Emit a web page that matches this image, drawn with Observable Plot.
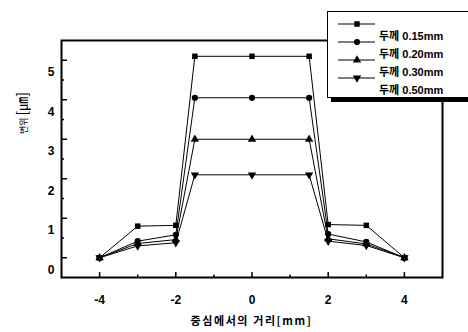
<!DOCTYPE html>
<html>
<head>
<meta charset="utf-8">
<script src="https://cdn.jsdelivr.net/npm/d3@7"></script>
<script src="https://cdn.jsdelivr.net/npm/@observablehq/plot@0.6"></script>
<style>
  html, body { margin: 0; padding: 0; background: #fff; overflow: hidden; }
  #wrap { position: relative; width: 468px; height: 332px; }
  #legend {
    position: absolute; left: 327px; top: 11px; width: 160px; height: 85px;
    border: 1px solid #000; background: #fff; overflow: hidden;
    box-shadow: 4px 4px 0 #000;
  }
</style>
</head>
<body>
<div id="wrap"><div id="legend"></div></div>
<script>
// ---- data ----
const distances = [-4, -3, -2, -1.5, 0, 1.5, 2, 3, 4];
const thickness015 = [0, 0.80, 0.82, 5.10, 5.10, 5.10, 0.84, 0.82, 0];
const thickness020 = [0, 0.42, 0.58, 4.05, 4.05, 4.05, 0.60, 0.40, 0];
const thickness030 = [0, 0.36, 0.46, 3.00, 3.00, 3.00, 0.48, 0.35, 0];
const thickness050 = [0, 0.30, 0.38, 2.10, 2.10, 2.10, 0.42, 0.31, 0];
const seriesLabels = ["두께 0.15mm", "두께 0.20mm", "두께 0.30mm", "두께 0.50mm"];
const xTicksMajor = [-4, -2, 0, 2, 4];
const xTicksMinor = [-3, -1, 1, 3];
const yTicksMajor = [0, 1, 2, 3, 4, 5];
const yTicksMinor = [0.5, 1.5, 2.5, 3.5, 4.5];
const xTitle = "중심에서의 거리[mm]";
const yTitleA = "변위";
const yTitleB = "[㎛]";

const seriesValues = [thickness015, thickness020, thickness030, thickness050];
const symbolNames = ["square", "circle", "triangle", "triangle"];
const symbolRotate = [0, 0, 0, 180];

const rows = seriesValues.flatMap((vals, s) =>
  vals.map((v, i) => ({x: distances[i], y: v, series: seriesLabels[s]})));

const FONT = "'Liberation Sans', Arial, 'Noto Sans CJK KR', sans-serif";
const R = 3.1;

const dotMarks = seriesLabels.map((lab, s) =>
  Plot.dot(rows.filter(d => d.series === lab), {
    x: "x", y: "y", r: R, symbol: symbolNames[s], rotate: symbolRotate[s],
    fill: "black", stroke: "none"
  }));

const svg = Plot.plot({
  width: 468, height: 332,
  marginLeft: 61, marginRight: 26, marginTop: 40, marginBottom: 55,
  x: {domain: [-5, 5], label: null},
  y: {domain: [-0.5, 5.5], label: null},
  style: {fontFamily: FONT, fontSize: "12px", fontWeight: "bold", color: "black", background: "white", overflow: "visible"},
  marks: [
    Plot.axisX({ticks: xTicksMajor, tickSize: -5, tickFormat: () => "", label: null, strokeWidth: 1.5}),
    Plot.axisX({ticks: xTicksMinor, tickSize: -2.5, tickFormat: () => "", label: null, strokeWidth: 1.5}),
    Plot.axisX({ticks: xTicksMajor, tickSize: 0, tickPadding: 18, tickFormat: d => String(d), label: null}),
    Plot.axisY({ticks: yTicksMajor, tickSize: -6, tickFormat: () => "", label: null, strokeWidth: 1.5}),
    Plot.axisY({ticks: yTicksMinor, tickSize: -3, tickFormat: () => "", label: null, strokeWidth: 1.5}),
    Plot.axisY({ticks: yTicksMajor, tickSize: 0, tickPadding: 7, dy: 12, tickFormat: d => String(d), label: null}),
    Plot.line(rows, {x: "x", y: "y", z: "series", stroke: "black", strokeWidth: 1}),
    ...dotMarks,
    Plot.frame({stroke: "black", strokeWidth: 2})
  ]
});

const s = d3.select(svg);
s.append("text")
  .attr("x", 251.5).attr("y", 324.5)
  .attr("text-anchor", "middle")
  .style("font-family", "'Noto Sans CJK KR', 'Liberation Sans', sans-serif")
  .style("font-size", "11px").style("font-weight", "bold")
  .style("letter-spacing", "1.6px")
  .attr("fill", "black")
  .text(xTitle);

const yt = s.append("text")
  .attr("transform", "translate(27,113) rotate(-90)")
  .attr("text-anchor", "middle")
  .style("font-family", "'Noto Sans CJK KR', 'Liberation Sans', sans-serif")
  .style("font-weight", "normal")
  .attr("fill", "black");
yt.append("tspan").style("font-size", "9px").text(yTitleA + " ");
yt.append("tspan").style("font-size", "14px").text(yTitleB);

document.getElementById("wrap").prepend(svg);

// ---- legend overlay ----
const lg = d3.select("#legend").append("svg").attr("width", 160).attr("height", 85);
const d3Symbols = [d3.symbolSquare, d3.symbolCircle, d3.symbolTriangle, d3.symbolTriangle];
const symY = [12, 30, 48, 66];
seriesLabels.forEach((lab, i) => {
  const g = lg.append("g");
  g.append("line").attr("x1", 10).attr("x2", 47).attr("y1", symY[i]).attr("y2", symY[i])
    .attr("stroke", "black").attr("stroke-width", 1);
  g.append("path")
    .attr("d", d3.symbol(d3Symbols[i], Math.PI * R * R)())
    .attr("transform", `translate(29,${symY[i]}) rotate(${symbolRotate[i]})`)
    .attr("fill", "black");
  g.append("text").attr("x", 51).attr("y", symY[i] + 12).attr("dy", "0.35em")
    .style("font-family", FONT).style("font-size", "11px").style("font-weight", "bold")
    .attr("fill", "black")
    .text(lab);
});
</script>
</body>
</html>
